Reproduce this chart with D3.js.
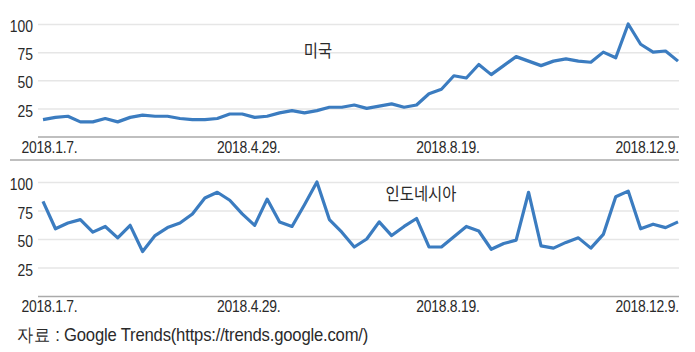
<!DOCTYPE html>
<html>
<head>
<meta charset="utf-8">
<script src="https://cdn.jsdelivr.net/npm/d3@7"></script>
<style>
  body { margin: 0; background: #fff; }
  svg { display: block; }
  .tick text, .lbl { font-family: "Liberation Sans", Arial, sans-serif; fill: #2a2a2a; }
  .kr { font-family: "Noto Sans CJK KR", "Noto Sans", sans-serif; fill: #2a2a2a; }
</style>
</head>
<body>
<div id="chart"></div>
<script>
// weekly Google Trends index, 2018.1.7 ~ 2018.12.30 (52 weeks)
const weeks = d3.range(52);
const usValues = [15, 17, 18, 13, 13, 16, 13, 17, 19, 18, 18, 16, 15, 15, 16, 20,
  20, 17, 18, 21, 23, 21, 23, 26, 26, 28, 25, 27, 29, 26, 28, 38,
  42, 54, 52, 64, 55, 63, 71, 67, 63, 67, 69, 67, 66, 75, 70, 100,
  82, 75, 76, 67];
const idValues = [83, 59, 64, 67, 56, 61, 51, 62, 39, 53, 60, 64, 72, 86, 91, 84,
  72, 62, 85, 65, 61, 80, 100, 67, 56, 43, 50, 65, 53, 61, 68, 43,
  43, 52, 61, 57, 41, 46, 49, 91, 44, 42, 47, 51, 42, 54, 87, 92,
  59, 63, 60, 65];
const tickWeeks = [0, 16, 32, 48];
const tickLabels = ['2018.1.7.', '2018.4.29.', '2018.8.19.', '2018.12.9.'];
const yTicks = [0, 25, 50, 75, 100];

const w = 695;
const h = 352;
const gridLeft = 38, gridRight = 679;
const narrow = 0.82; // the source font is a condensed one

const svg = d3.select('#chart').append('svg')
  .attr('width', w)
  .attr('height', h);

const x = d3.scaleLinear()
  .domain([0, 51])
  .range([43, 678]);

const panels = [
  { name: '미국', values: usValues, top: 24, bottom: 136.5, labelX: 318, labelY: 57 },
  { name: '인도네시아', values: idValues, top: 182, bottom: 296, labelX: 421, labelY: 200 }
];

panels.forEach(p => {
  const y = d3.scaleLinear().domain([0, 100]).range([p.bottom, p.top]);

  // gridlines + y labels
  const yAxis = d3.axisLeft(y)
    .tickValues(yTicks)
    .tickSize(-(gridRight - gridLeft))
    .tickPadding(0);

  const gy = svg.append('g')
    .attr('transform', `translate(${gridLeft},0)`)
    .call(yAxis);
  gy.select('.domain').remove();
  gy.selectAll('.tick line').attr('stroke', '#e6e6e6').attr('stroke-width', 1.5);
  gy.selectAll('.tick text')
    .attr('x', null)
    .attr('font-size', 17)
    .attr('dy', '0.45em')
    .attr('transform', `translate(-5,0) scale(${narrow},1)`);
  gy.selectAll('.tick').filter(d => d === 0).select('text').remove();
  gy.selectAll('.tick').filter(d => d === 0).select('line')
    .attr('stroke', '#aaa').attr('stroke-width', 1.5);

  // x labels
  const xAxis = d3.axisBottom(x)
    .tickValues(tickWeeks)
    .tickFormat((d, i) => tickLabels[i])
    .tickSize(0)
    .tickPadding(4);
  const gx = svg.append('g')
    .attr('transform', `translate(6,${p.bottom})`)
    .call(xAxis);
  gx.select('.domain').remove();
  gx.selectAll('.tick text')
    .attr('font-size', 17)
    .attr('letter-spacing', -0.3)
    .attr('transform', `scale(${narrow},1)`);

  // line
  const line = d3.line()
    .x((d, i) => x(weeks[i]))
    .y(d => y(d));

  svg.append('path')
    .datum(p.values)
    .attr('fill', 'none')
    .attr('stroke', '#3b7cc0')
    .attr('stroke-width', 3.2)
    .attr('stroke-linejoin', 'round')
    .attr('d', line);

  svg.append('text')
    .attr('class', 'kr')
    .attr('transform', `translate(${p.labelX},${p.labelY}) scale(0.88,1)`)
    .attr('text-anchor', 'middle')
    .attr('font-size', 17.5)
    .text(p.name);
});

// separator between panels
svg.append('line')
  .attr('x1', 10).attr('x2', gridRight)
  .attr('y1', 160).attr('y2', 160)
  .attr('stroke', '#aaa')
  .attr('stroke-width', 1.5);

// source
svg.append('text')
  .attr('class', 'lbl')
  .attr('transform', 'translate(17,341) scale(0.9,1)')
  .attr('font-size', 18.5)
  .attr('letter-spacing', -0.2)
  .text('자료 : Google Trends(https://trends.google.com/)');
</script>
</body>
</html>
